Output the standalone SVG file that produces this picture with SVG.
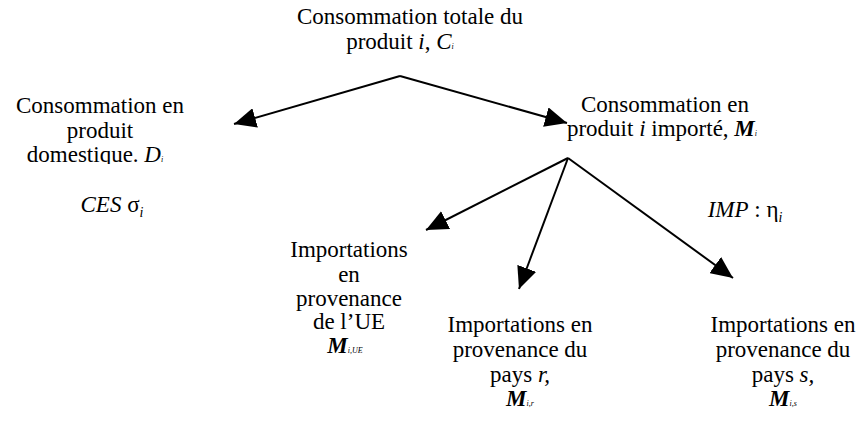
<svg xmlns="http://www.w3.org/2000/svg" width="860" height="422" viewBox="0 0 860 422">
<style>
text { font-family: "Liberation Serif", "DejaVu Serif", serif; font-size: 23px; fill: #000; text-anchor: middle; }
.it { font-style: italic; }
.bi { font-style: italic; font-weight: bold; }
.sub { font-size: 8px; font-style: italic; }
.sub2 { font-size: 14px; font-style: italic; }
.conn line { stroke: #000; stroke-width: 2; marker-end: url(#ah); }
</style>
<defs>
<marker id="ah" markerUnits="userSpaceOnUse" markerWidth="24" markerHeight="20" refX="22" refY="10" orient="auto">
<path d="M0,0 L22,10 L0,20 z" fill="#000"/>
</marker>
<clipPath id="clipD"><rect x="0" y="140" width="200" height="24"/></clipPath>
</defs>
<rect width="860" height="422" fill="#fff"/>
<g id="connectors" class="conn">
<line x1="400" y1="76" x2="234" y2="124"/>
<line x1="400" y1="76" x2="567" y2="123"/>
<line x1="568" y1="158" x2="426" y2="230"/>
<line x1="568" y1="158" x2="519" y2="289"/>
<line x1="568" y1="158" x2="733" y2="278"/>
</g>
<g id="node-total">
<text x="410" y="24">Consommation totale du</text>
<text x="400" y="49">produit <tspan class="it">i</tspan>, <tspan class="it">C</tspan><tspan class="sub">i</tspan></text>
</g>
<g id="node-domestique">
<text x="100" y="113">Consommation en</text>
<text x="100" y="138">produit</text>
<text x="95" y="162" clip-path="url(#clipD)">domestique. <tspan class="it">D</tspan><tspan class="sub">i</tspan></text>
<text x="112" y="212"><tspan class="it">CES</tspan> σ<tspan class="sub2" dy="5">i</tspan></text>
</g>
<g id="node-importe">
<text x="665" y="112">Consommation en</text>
<text x="662" y="136">produit <tspan class="it">i</tspan> importé, <tspan class="bi">M</tspan><tspan class="sub">i</tspan></text>
<text x="745" y="217"><tspan class="it">IMP</tspan> : η<tspan class="sub2" dy="5">i</tspan></text>
</g>
<g id="node-ue">
<text x="349" y="257">Importations</text>
<text x="349" y="282">en</text>
<text x="349" y="306">provenance</text>
<text x="349" y="329">de l’UE</text>
<text x="345" y="353"><tspan class="bi">M</tspan><tspan class="sub">i,UE</tspan></text>
</g>
<g id="node-r">
<text x="520" y="332">Importations en</text>
<text x="520" y="357">provenance du</text>
<text x="520" y="382">pays <tspan class="it">r,</tspan></text>
<text x="520" y="406"><tspan class="bi">M</tspan><tspan class="sub">i,r</tspan></text>
</g>
<g id="node-s">
<text x="783" y="332">Importations en</text>
<text x="783" y="357">provenance du</text>
<text x="783" y="382">pays <tspan class="it">s,</tspan></text>
<text x="783" y="406"><tspan class="bi">M</tspan><tspan class="sub">i,s</tspan></text>
</g>
</svg>
